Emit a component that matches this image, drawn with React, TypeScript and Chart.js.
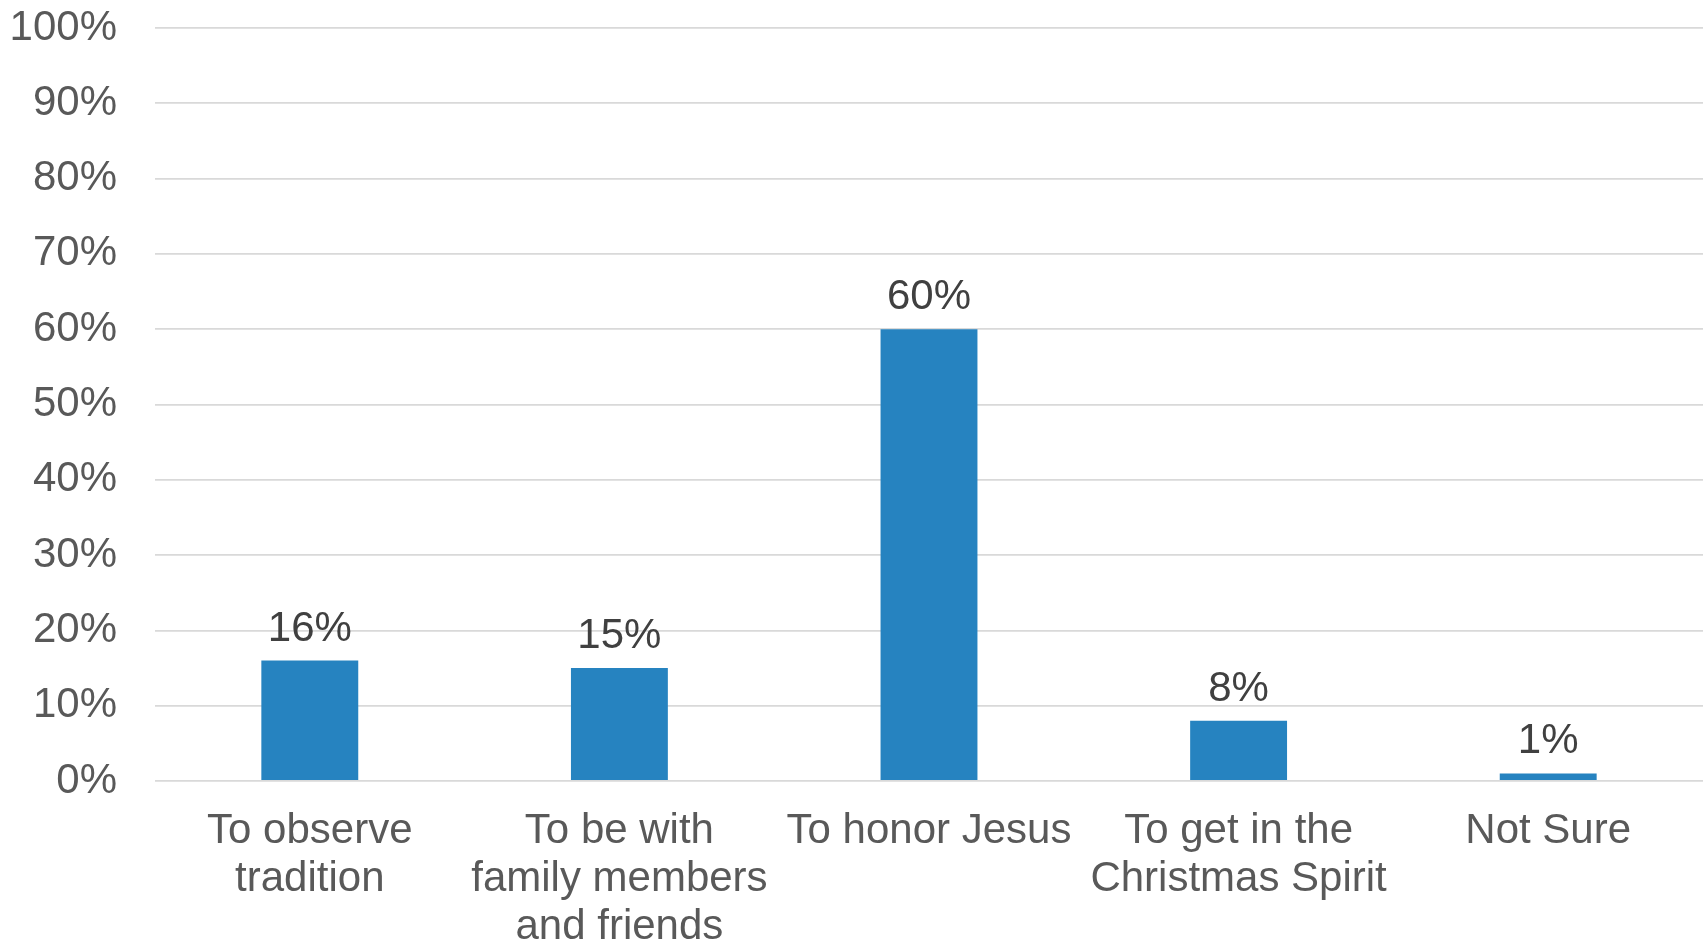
import React, { useEffect, useRef } from "react";
import { Chart, registerables } from "chart.js";

Chart.register(...registerables);

const categories: (string | string[])[] = [
  ["To observe", "tradition"],
  ["To be with", "family members", "and friends"],
  "To honor Jesus",
  ["To get in the", "Christmas Spirit"],
  "Not Sure",
];
const values: number[] = [16, 15, 60, 8, 1];
const yTicks: number[] = [0, 10, 20, 30, 40, 50, 60, 70, 80, 90, 100];

const FONT = "'Liberation Sans', Arial, sans-serif";

const dataLabelPlugin = {
  id: "dataLabels",
  afterDatasetsDraw(chart: any) {
    const ctx = chart.ctx;
    const meta = chart.getDatasetMeta(0);
    ctx.save();
    ctx.font = `42px ${FONT}`;
    ctx.fillStyle = "#404040";
    ctx.textAlign = "center";
    ctx.textBaseline = "alphabetic";
    meta.data.forEach((bar: any, i: number) => {
      ctx.fillText(`${values[i]}%`, bar.x, bar.y - 20);
    });
    ctx.restore();
  },
};

export default function App() {
  const canvasRef = useRef<HTMLCanvasElement | null>(null);

  useEffect(() => {
    if (!canvasRef.current) return;
    const chart = new Chart(canvasRef.current, {
      type: "bar",
      data: {
        labels: categories,
        datasets: [
          {
            data: values,
            backgroundColor: "#2683C0",
            borderWidth: 0,
            categoryPercentage: 1,
            barPercentage: 0.313,
          },
        ],
      },
      options: {
        animation: false,
        responsive: true,
        maintainAspectRatio: false,
        devicePixelRatio: 1,
        layout: { padding: { top: 28, right: 5, left: 0, bottom: 0 } },
        plugins: {
          legend: { display: false },
          tooltip: { enabled: false },
        },
        scales: {
          x: {
            grid: { display: false, drawTicks: false },
            border: { display: false },
            ticks: {
              color: "#595959",
              font: { family: FONT, size: 42, lineHeight: 1.15 },
              padding: 26,
              maxRotation: 0,
              autoSkip: false,
            },
            afterFit: (scale: any) => {
              scale.height = 166;
              scale.paddingLeft = 0;
              scale.paddingRight = 0;
            },
          },
          y: {
            min: 0,
            max: 100,
            afterBuildTicks: (scale: any) => {
              scale.ticks = yTicks.map((v) => ({ value: v }));
            },
            grid: { color: "#d9d9d9", lineWidth: 1.8, drawTicks: false },
            border: { display: false },
            ticks: {
              color: "#595959",
              font: { family: FONT, size: 42 },
              padding: 38,
              callback: (v: any) => `${v}%`,
            },
            afterFit: (scale: any) => {
              scale.width = 155;
              scale.paddingTop = 0;
              scale.paddingBottom = 0;
            },
          },
        },
      },
      plugins: [dataLabelPlugin],
    });
    return () => chart.destroy();
  }, []);

  return (
    <div
      style={{
        position: "absolute",
        left: 0,
        top: 0,
        width: 1708,
        height: 947,
        background: "#fff",
      }}
    >
      <canvas ref={canvasRef} />
    </div>
  );
}
